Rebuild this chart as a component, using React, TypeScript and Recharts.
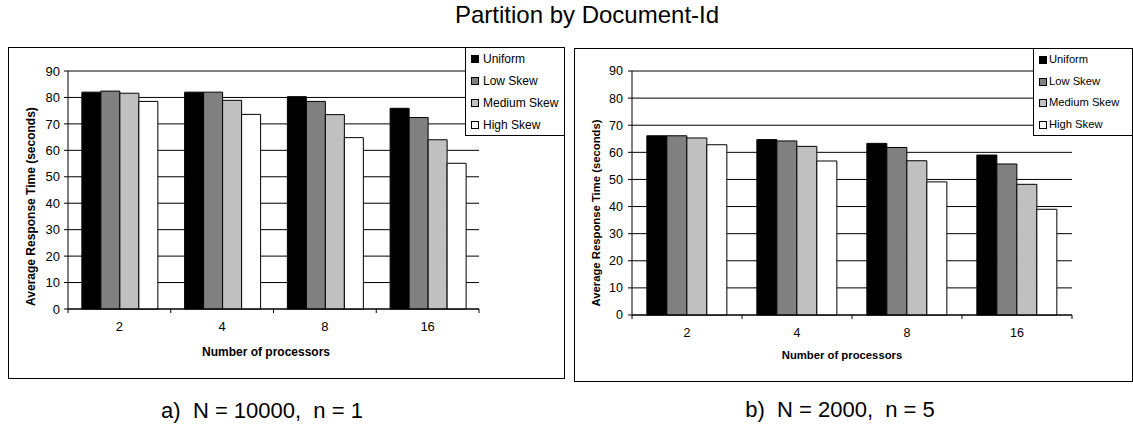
import React from 'react';
import { BarChart, Bar, XAxis, YAxis, CartesianGrid, Legend, Label, ReferenceLine } from 'recharts';

// ---------- data ----------
const processors = ['2', '4', '8', '16'];
const seriesNames = ['Uniform', 'Low Skew', 'Medium Skew', 'High Skew'];
const seriesKeys = ['uniform', 'low', 'medium', 'high'];
const seriesFills = ['#000000', '#808080', '#C0C0C0', '#FFFFFF'];
const yTicks = [0, 10, 20, 30, 40, 50, 60, 70, 80, 90];

// a) N = 10000, n = 1
const uniformA = [82.0, 82.0, 80.3, 75.9];
const lowSkewA = [82.4, 82.0, 78.5, 72.4];
const mediumSkewA = [81.6, 78.9, 73.5, 64.0];
const highSkewA = [78.5, 73.6, 64.8, 55.1];

// b) N = 2000, n = 5
const uniformB = [66.1, 64.7, 63.3, 59.0];
const lowSkewB = [66.1, 64.2, 61.8, 55.7];
const mediumSkewB = [65.3, 62.2, 56.9, 48.2];
const highSkewB = [62.8, 56.8, 49.1, 39.0];

const title = 'Partition by Document-Id';
const yTitle = 'Average Response Time (seconds)';
const xTitle = 'Number of processors';
const captionA = 'a)  N = 10000,  n = 1';
const captionB = 'b)  N = 2000,  n = 5';

const buildData = (u: number[], l: number[], m: number[], h: number[]) =>
  processors.map((p, i) => ({ p, uniform: u[i], low: l[i], medium: m[i], high: h[i] }));

const dataA = buildData(uniformA, lowSkewA, mediumSkewA, highSkewA);
const dataB = buildData(uniformB, lowSkewB, mediumSkewB, highSkewB);

const FONT = '"Liberation Sans", Arial, Helvetica, sans-serif';

type PanelCfg = {
  left: number;
  top: number;
  width: number;
  height: number;
  yAxisWidth: number;
  plotTop: number;
  marginRight: number;
  xAxisHeight: number;
  tickFont: number;
  titleFont: number;
  legendFont: number;
  yTickMargin: number;
  xTickMargin: number;
  yTitleX: number;
  yTitleY: number;
  xTitleX: number;
  xTitleY: number;
  legendW: number;
  legendH: number;
  legendSwatchX: number;
  legendTextX: number;
  legendRow: number;
};

const cfgA: PanelCfg = {
  left: 8, top: 47, width: 557, height: 332,
  yAxisWidth: 59, plotTop: 23, marginRight: 85, xAxisHeight: 69,
  tickFont: 13, titleFont: 12, legendFont: 12,
  yTickMargin: 4, xTickMargin: 13,
  yTitleX: 22, yTitleY: 158.5, xTitleX: 257, xTitleY: 304,
  legendW: 100, legendH: 89, legendSwatchX: 6, legendTextX: 18, legendRow: 22,
};

const cfgB: PanelCfg = {
  left: 574, top: 48, width: 559, height: 334,
  yAxisWidth: 57, plotTop: 22, marginRight: 60, xAxisHeight: 66,
  tickFont: 12.5, titleFont: 11.3, legendFont: 11.2,
  yTickMargin: 5, xTickMargin: 13,
  yTitleX: 21.5, yTitleY: 164, xTitleX: 267, xTitleY: 306.5,
  legendW: 100, legendH: 88, legendSwatchX: 6, legendTextX: 16, legendRow: 21.7,
};

const XTick = (props: any) => {
  const { x, y, payload, index, visibleTicksCount, fs, band, gap } = props;
  const half = band / 2;
  const axisY = y - gap;
  const last = index === visibleTicksCount - 1;
  return (
    <g>
      <line x1={x - half} x2={x - half} y1={axisY} y2={axisY + 4} stroke="#000" />
      {last ? <line x1={x + half} x2={x + half} y1={axisY} y2={axisY + 4} stroke="#000" /> : null}
      <text x={x} y={y} dy="0.71em" textAnchor="middle" fontSize={fs} fontFamily={FONT} fill="#000">
        {payload.value}
      </text>
    </g>
  );
};

const Panel = ({ cfg, data }: { cfg: PanelCfg; data: any[] }) => {
  const innerW = cfg.width - 2;
  const innerH = cfg.height - 2;
  const plotW = innerW - cfg.yAxisWidth - cfg.marginRight;
  const band = plotW / processors.length;

  const renderLegend = () => (
    <div
      style={{
        width: cfg.legendW,
        height: cfg.legendH,
        boxSizing: 'border-box',
        border: '1px solid #000',
        background: '#fff',
        position: 'relative',
        fontFamily: FONT,
        fontSize: cfg.legendFont,
        color: '#000',
      }}
    >
      {seriesNames.map((name, i) => (
        <div
          key={name}
          style={{
            position: 'absolute',
            left: 0,
            top: i * cfg.legendRow,
            height: cfg.legendRow,
            width: '100%',
          }}
        >
          <div
            style={{
              position: 'absolute',
              left: cfg.legendSwatchX - 1,
              top: cfg.legendRow / 2 - 4,
              width: 8,
              height: 8,
              boxSizing: 'border-box',
              border: '1px solid #000',
              background: seriesFills[i],
            }}
          />
          <div
            style={{
              position: 'absolute',
              left: cfg.legendTextX - 1,
              top: 0,
              lineHeight: `${cfg.legendRow}px`,
              whiteSpace: 'nowrap',
            }}
          >
            {name}
          </div>
        </div>
      ))}
    </div>
  );

  return (
    <div
      style={{
        position: 'absolute',
        left: cfg.left,
        top: cfg.top,
        width: cfg.width,
        height: cfg.height,
        boxSizing: 'border-box',
        border: '1px solid #000',
        background: '#fff',
      }}
    >
      <BarChart
        width={innerW}
        height={innerH}
        data={data}
        margin={{ top: cfg.plotTop, right: cfg.marginRight, bottom: 0, left: 0 }}
        barGap={0}
        barCategoryGap="13.5%"
      >
        <CartesianGrid horizontal vertical={false} stroke="#000" strokeWidth={1} />
        <ReferenceLine y={90} stroke="#808080" />
        <XAxis
          dataKey="p"
          type="category"
          height={cfg.xAxisHeight}
          axisLine={{ stroke: '#000' }}
          tickLine={false}
          tickSize={0}
          tickMargin={cfg.xTickMargin}
          interval={0}
          tick={(p: any) => (
            <XTick {...p} fs={cfg.tickFont} band={band} gap={cfg.xTickMargin} />
          )}
        >
          <Label
            content={() => (
              <text
                x={cfg.xTitleX}
                y={cfg.xTitleY}
                dy="0.35em"
                textAnchor="middle"
                fontFamily={FONT}
                fontWeight="bold"
                fontSize={cfg.titleFont}
                fill="#000"
              >
                {xTitle}
              </text>
            )}
          />
        </XAxis>
        <YAxis
          width={cfg.yAxisWidth}
          domain={[0, 90]}
          ticks={yTicks}
          interval={0}
          axisLine={{ stroke: '#000' }}
          tickLine={{ stroke: '#000' }}
          tickSize={4}
          tickMargin={cfg.yTickMargin}
          tick={{ fill: '#000', fontSize: cfg.tickFont, fontFamily: FONT }}
        >
          <Label
            content={() => (
              <text
                x={cfg.yTitleX}
                y={cfg.yTitleY}
                dy="0.35em"
                textAnchor="middle"
                transform={`rotate(-90, ${cfg.yTitleX}, ${cfg.yTitleY})`}
                fontFamily={FONT}
                fontWeight="bold"
                fontSize={cfg.titleFont}
                fill="#000"
              >
                {yTitle}
              </text>
            )}
          />
        </YAxis>
        <YAxis
          yAxisId="frame"
          orientation="right"
          width={0}
          domain={[0, 90]}
          tick={false}
          tickLine={false}
          axisLine={{ stroke: '#808080' }}
        />
        {seriesKeys.map((k, i) => (
          <Bar
            key={k}
            dataKey={k}
            name={seriesNames[i]}
            fill={seriesFills[i]}
            stroke="#000"
            strokeWidth={1}
            isAnimationActive={false}
          />
        ))}
        <Legend
          layout="vertical"
          align="center"
          verticalAlign="middle"
          wrapperStyle={{ position: 'absolute', top: -1, right: -1, left: 'auto', width: cfg.legendW, height: cfg.legendH }}
          content={renderLegend}
        />
      </BarChart>
    </div>
  );
};

export default function App() {
  return (
    <div
      style={{
        position: 'absolute',
        left: 0,
        top: 0,
        width: 1133,
        height: 427,
        background: '#fff',
        fontFamily: FONT,
        overflow: 'hidden',
      }}
    >
      <div
        style={{
          position: 'absolute',
          left: 387,
          width: 400,
          top: 3,
          textAlign: 'center',
          fontSize: 24,
          lineHeight: '24px',
          color: '#000',
          whiteSpace: 'pre',
        }}
      >
        {title}
      </div>
      <Panel cfg={cfgA} data={dataA} />
      <Panel cfg={cfgB} data={dataB} />
      <div
        style={{
          position: 'absolute',
          left: 262 - 150,
          width: 300,
          top: 419 - 19,
          textAlign: 'center',
          fontSize: 22,
          lineHeight: '22px',
          color: '#000',
          whiteSpace: 'pre',
        }}
      >
        {captionA}
      </div>
      <div
        style={{
          position: 'absolute',
          left: 840 - 150,
          width: 300,
          top: 418 - 19,
          textAlign: 'center',
          fontSize: 22,
          lineHeight: '22px',
          color: '#000',
          whiteSpace: 'pre',
        }}
      >
        {captionB}
      </div>
    </div>
  );
}
